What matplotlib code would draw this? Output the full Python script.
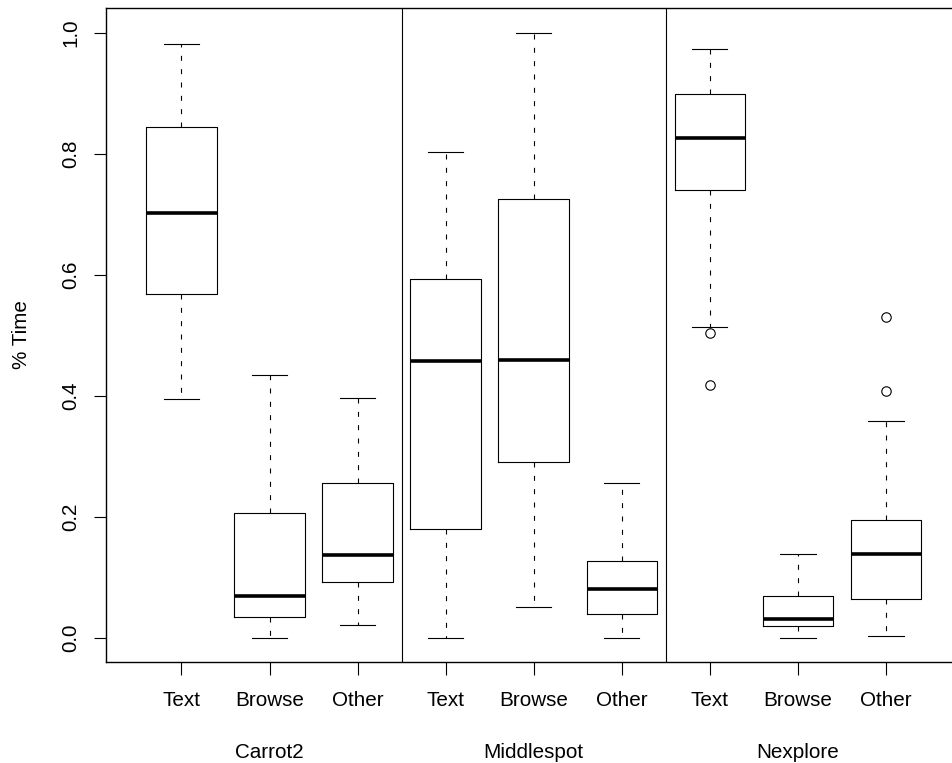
import matplotlib
matplotlib.use("Agg")
import matplotlib.pyplot as plt
import matplotlib.transforms as mtransforms

plt.rcParams['font.family'] = ['Liberation Sans', 'DejaVu Sans']

engines = ["Carrot2", "Middlespot", "Nexplore"]
activities = ["Text", "Browse", "Other"]

# five-number summaries per box (order: Carrot2 Text/Browse/Other, Middlespot ..., Nexplore ...)
whislo = [0.394, 0.000, 0.020, 0.000, 0.051, 0.000, 0.514, 0.000, 0.003]
q1     = [0.568, 0.034, 0.092, 0.180, 0.290, 0.039, 0.740, 0.019, 0.064]
med    = [0.702, 0.068, 0.137, 0.457, 0.458, 0.080, 0.825, 0.031, 0.138]
q3     = [0.844, 0.205, 0.256, 0.592, 0.724, 0.127, 0.898, 0.069, 0.194]
whishi = [0.981, 0.434, 0.396, 0.802, 1.000, 0.255, 0.973, 0.138, 0.358]
fliers = [[], [], [], [], [], [], [0.503, 0.418], [], [0.529, 0.407]]

yticks = [0.0, 0.2, 0.4, 0.6, 0.8, 1.0]
ytick_labels = ["0.0", "0.2", "0.4", "0.6", "0.8", "1.0"]

W, H = 952, 763
fig = plt.figure(figsize=(W / 100, H / 100), dpi=100)
left_px, right_px, top_px, bottom_px = 105.7, 961.7, 8.3, 661.7
ax = fig.add_axes([left_px / W, 1 - bottom_px / H,
                   (right_px - left_px) / W, (bottom_px - top_px) / H])

stats = []
for i in range(len(med)):
    stats.append(dict(med=med[i], q1=q1[i], q3=q3[i],
                      whislo=whislo[i], whishi=whishi[i], fliers=fliers[i]))

positions = list(range(1, len(med) + 1))
ax.bxp(stats, positions=positions, widths=0.8, capwidths=0.4,
       showfliers=True, patch_artist=False,
       boxprops=dict(color='black', linewidth=0.8),
       whiskerprops=dict(color='black', linewidth=0.8, linestyle=(0, (4.5, 7.5))),
       capprops=dict(color='black', linewidth=0.8),
       medianprops=dict(color='black', linewidth=2.6, solid_capstyle='butt'),
       flierprops=dict(marker='o', markersize=6.8, markerfacecolor='none',
                       markeredgecolor='black', markeredgewidth=0.8, linestyle='none'))

ax.set_xlim(0.14, 9.86)
ax.set_ylim(-0.04, 1.04)

for sep in (3.5, 6.5):
    ax.axvline(sep, color='black', linewidth=0.8)

for s in ax.spines.values():
    s.set_linewidth(1.0)
    s.set_color('black')

fs = 14.9
ax.set_xticks(positions)
ax.set_xticklabels(activities * len(engines), fontsize=fs)
ax.set_yticks(yticks)
ax.set_yticklabels(ytick_labels, fontsize=fs, rotation=90, va='center')
ax.tick_params(axis='x', length=9.4, width=0.8, pad=12)
ax.tick_params(axis='y', length=9.0, width=0.8, pad=9)

ax.set_ylabel("% Time", fontsize=fs)
ax.yaxis.set_label_coords(-0.087, 0.5)

trans = mtransforms.blended_transform_factory(ax.transData, ax.transAxes)
for g, name in enumerate(engines):
    ax.text(2 + 3 * g, -(758.3 - bottom_px) / (bottom_px - top_px), name,
            transform=trans, ha='center', va='baseline', fontsize=fs)

fig.savefig("out.png", dpi=100)
